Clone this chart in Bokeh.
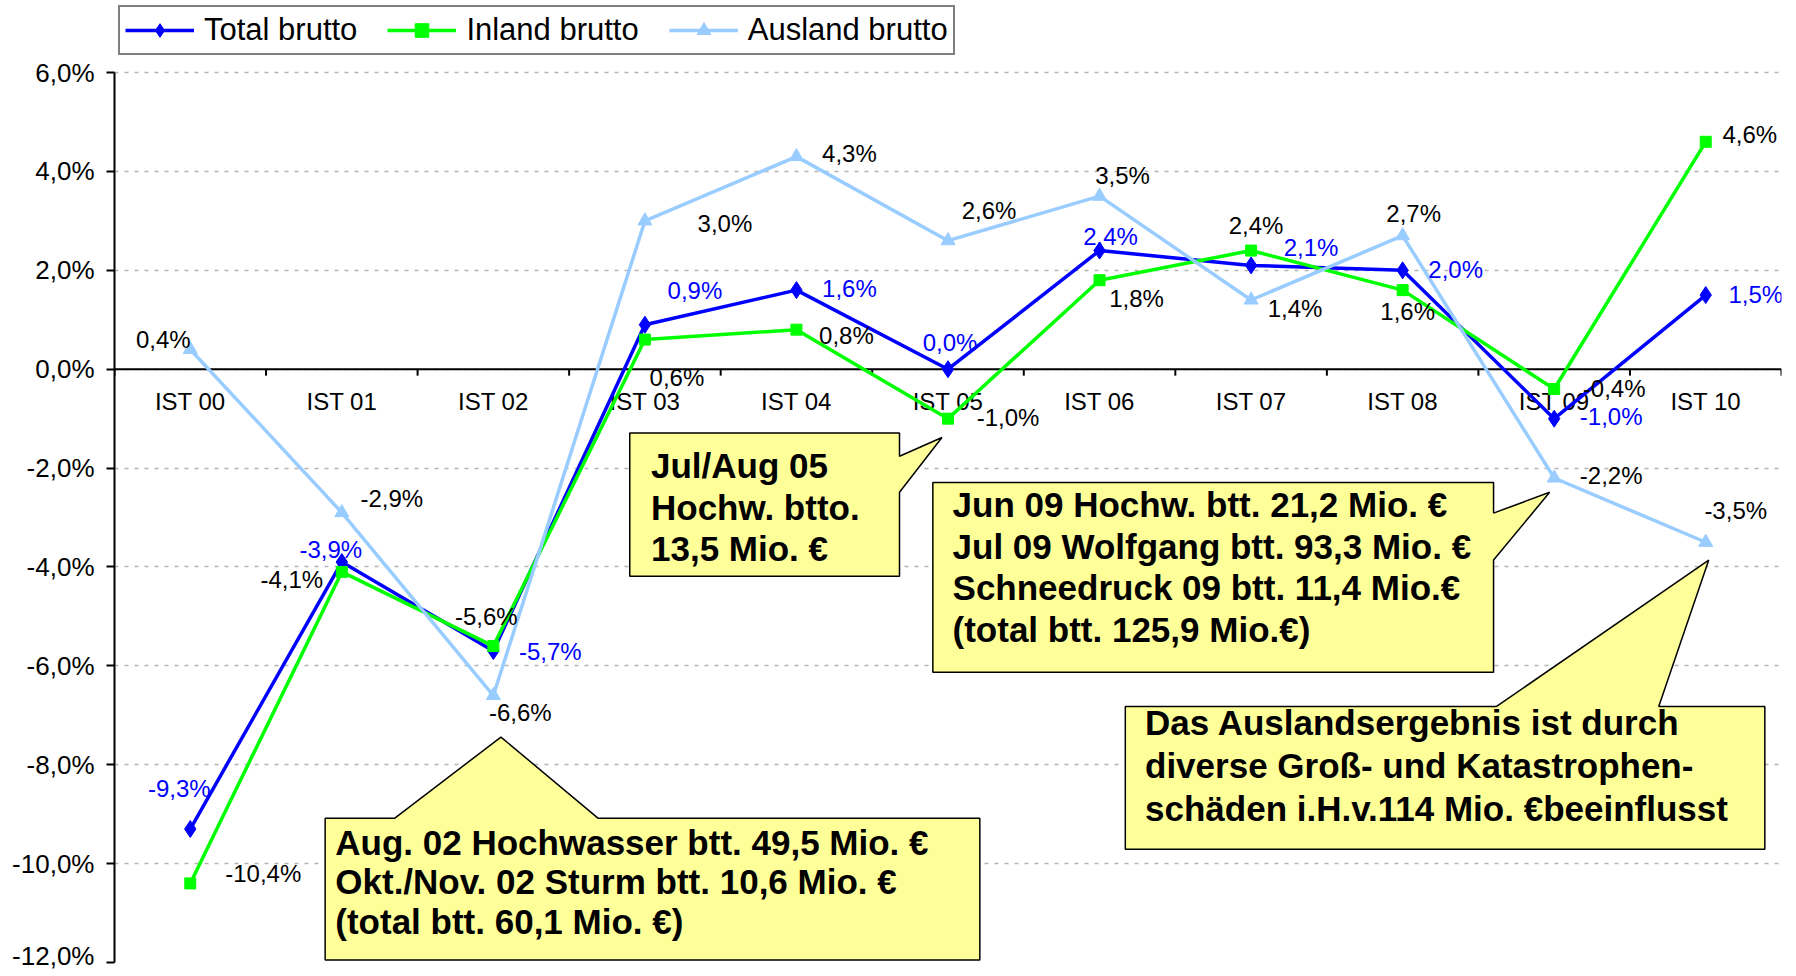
from bokeh.plotting import figure
from bokeh.models import Range1d, FixedTicker, Legend, LegendItem, Span, ColumnDataSource
from bokeh.core.properties import value
from bokeh.embed import file_html
from bokeh.resources import INLINE

# ---------------- data ----------------
categories = ["IST 00", "IST 01", "IST 02", "IST 03", "IST 04", "IST 05",
              "IST 06", "IST 07", "IST 08", "IST 09", "IST 10"]
total_brutto = [-9.3, -3.9, -5.7, 0.9, 1.6, 0.0, 2.4, 2.1, 2.0, -1.0, 1.5]
inland_brutto = [-10.4, -4.1, -5.6, 0.6, 0.8, -1.0, 1.8, 2.4, 1.6, -0.4, 4.6]
ausland_brutto = [0.4, -2.9, -6.6, 3.0, 4.3, 2.6, 3.5, 1.4, 2.7, -2.2, -3.5]
series_names = ["Total brutto", "Inland brutto", "Ausland brutto"]
y_ticks = [-12, -10, -8, -6, -4, -2, 0, 2, 4, 6]
y_tick_labels = ["-12,0%", "-10,0%", "-8,0%", "-6,0%", "-4,0%", "-2,0%",
                 "0,0%", "2,0%", "4,0%", "6,0%"]

callout_texts = [
    ["Jul/Aug 05", "Hochw. btto.", "13,5 Mio. \u20ac"],
    ["Jun 09 Hochw. btt. 21,2 Mio. \u20ac", "Jul 09 Wolfgang btt. 93,3 Mio. \u20ac",
     "Schneedruck 09 btt. 11,4 Mio.\u20ac", "(total btt. 125,9 Mio.\u20ac)"],
    ["Aug. 02 Hochwasser btt. 49,5 Mio. \u20ac", "Okt./Nov. 02 Sturm btt. 10,6 Mio. \u20ac",
     "(total btt. 60,1 Mio. \u20ac)"],
    ["Das Auslandsergebnis ist durch", "diverse Gro\u00df- und Katastrophen-",
     "sch\u00e4den i.H.v.114 Mio. \u20acbeeinflusst"],
]

# ---------------- label placement (pixel offsets) ----------------
total_dx = [-11, -11, 57, 50, 53, 2, 11, 60, 53, 57, 50]
total_dy = [-41, -13, 0, -34, -2, -27, -14, -18, -1, -2, -1]
inland_dx = [73, -50, -7, 32, 50, 60, 37, 5, 5, 60, 44]
inland_dy = [-10, 8, -30, 38, 6, -1, 18, -25, 21, 0, -7]
ausland_dx = [-27, 50, 27, 80, 53, 41, 23, 44, 11, 57, 30]
ausland_dy = [-10, -14, 17, 3, -3, -30, -21, 8, -22, -2, -32]

BLUE = "#0000FF"
GREEN = "#00FF00"
LIGHT = "#99CCFF"
FONT = value("Liberation Sans")


def fmt(v):
    return f"{v:.1f}".replace(".", ",") + "%"


x = list(range(len(categories)))

# frame: 962 px tall, 49.44 px per percentage point, -12 at the bottom
y_top = -12 + 962 / 49.44

p = figure(width=1790, height=970,
           x_range=Range1d(-0.5, len(categories) - 0.5), y_range=Range1d(-12, y_top),
           output_backend="svg", toolbar_location=None,
           min_border_left=114, min_border_right=9, min_border_top=0, min_border_bottom=8,
           x_axis_location=None)
p.outline_line_color = None
p.background_fill_color = "white"
p.border_fill_color = "white"
p.xgrid.visible = False
p.ygrid.ticker = FixedTicker(ticks=y_ticks)
p.ygrid.grid_line_color = "#b4b4b4"
p.ygrid.grid_line_dash = "4 6"
p.ygrid.grid_line_width = 1.5

yax = p.yaxis[0]
yax.ticker = FixedTicker(ticks=y_ticks)
yax.bounds = (-12, 6)
yax.major_label_overrides = {t: l for t, l in zip(y_ticks, y_tick_labels)}
yax.axis_line_width = 2
yax.axis_line_color = "black"
yax.major_tick_line_width = 2
yax.major_tick_out = 8
yax.major_tick_in = 0
yax.minor_tick_line_color = None
yax.major_label_text_font = "Liberation Sans"
yax.major_label_text_font_size = "26px"
yax.major_label_text_color = "black"
yax.major_label_standoff = 12

# zero axis line with category ticks and labels
p.add_layout(Span(location=0, dimension="width", line_color="black", line_width=2, level="underlay"))
bounds = [i - 0.5 for i in range(len(categories) + 1)]
p.segment(x0=bounds, x1=bounds, y0=[0] * len(bounds), y1=[-0.13] * len(bounds),
          line_color="black", line_width=2)
p.text(x=x, y=[0] * len(x), text=categories, y_offset=32, text_align="center",
       text_baseline="middle", text_font=FONT, text_font_size="24px", text_color="black")

# series
r_tl = p.line(x, total_brutto, line_color=BLUE, line_width=3.5)
r_ts = p.scatter(x, total_brutto, marker="diamond", size=17, color=BLUE)
r_il = p.line(x, inland_brutto, line_color=GREEN, line_width=3.5)
r_is = p.scatter(x, inland_brutto, marker="square", size=11, color=GREEN)
r_al = p.line(x, ausland_brutto, line_color=LIGHT, line_width=3.5)
r_as = p.scatter(x, ausland_brutto, marker="triangle", size=14, color=LIGHT)

for vals, dx, dy, col in [(total_brutto, total_dx, total_dy, BLUE),
                          (inland_brutto, inland_dx, inland_dy, "black"),
                          (ausland_brutto, ausland_dx, ausland_dy, "black")]:
    src = ColumnDataSource(dict(x=x, y=vals, t=[fmt(v) for v in vals], dx=dx, dy=dy))
    p.text(x="x", y="y", text="t", x_offset="dx", y_offset="dy", source=src,
           text_align="center", text_baseline="middle", text_font=FONT,
           text_font_size="24px", text_color=col)

# callouts (annotation geometry in data units)
callouts = [
    dict(box=(2.90, 4.68, -1.29, -4.19), side="right", tail=(-1.76, -2.49), tip=(4.96, -1.38),
         tx=3.04, first=33, step=41.5),
    dict(box=(4.90, 8.60, -2.29, -6.13), side="right", tail=(-2.91, -3.86), tip=(8.97, -2.49),
         tx=5.03, first=22, step=41.7),
    dict(box=(0.89, 5.21, -9.08, -11.95), side="top", tail=(1.35, 2.69), tip=(2.05, -7.44),
         tx=0.957, first=24, step=39.5),
    dict(box=(6.17, 10.39, -6.82, -9.71), side="top", tail=(8.62, 9.69), tip=(10.02, -3.86),
         tx=6.30, first=16, step=43),
]
for c, lines in zip(callouts, callout_texts):
    x0, x1, yt, yb = c["box"]
    a, b = c["tail"]
    tx_, ty_ = c["tip"]
    if c["side"] == "right":
        xs = [x0, x1, x1, tx_, x1, x1, x0]
        ys = [yt, yt, a, ty_, b, yb, yb]
    else:
        xs = [x0, a, tx_, b, x1, x1, x0]
        ys = [yt, yt, ty_, yt, yt, yb, yb]
    p.patch(xs, ys, fill_color="#FFFF99", line_color="black", line_width=1.5)
    n = len(lines)
    p.text(x=[c["tx"]] * n, y=[yt] * n, text=lines,
           y_offset=[c["first"] + i * c["step"] for i in range(n)],
           text_align="left", text_baseline="middle", text_font=FONT,
           text_font_style="bold", text_font_size="35px", text_color="black")

legend = Legend(items=[LegendItem(label=series_names[0], renderers=[r_tl, r_ts]),
                       LegendItem(label=series_names[1], renderers=[r_il, r_is]),
                       LegendItem(label=series_names[2], renderers=[r_al, r_as])],
                orientation="horizontal", location=(4, 907))
legend.label_text_font = "Liberation Sans"
legend.label_text_font_size = "31px"
legend.label_text_color = "black"
legend.glyph_width = 69
legend.glyph_height = 34
legend.label_standoff = 10
legend.spacing = 30
legend.padding = 5
legend.margin = 0
legend.border_line_color = "black"
legend.border_line_width = 2
legend.background_fill_color = "white"
legend.background_fill_alpha = 1
p.add_layout(legend)

open("out.html", "w").write(file_html(p, INLINE))
